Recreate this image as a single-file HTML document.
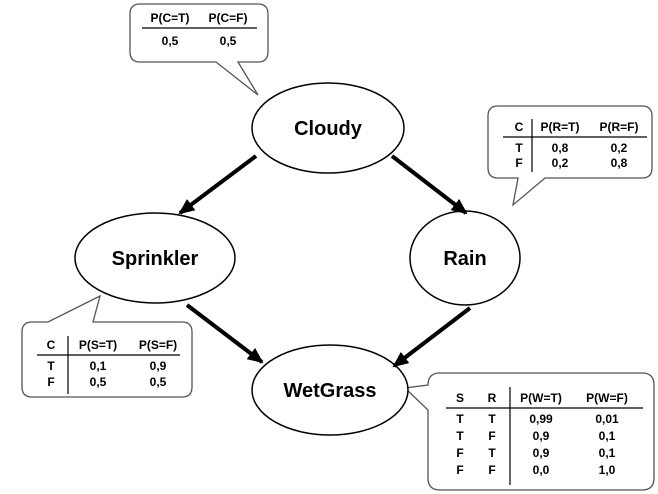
<!DOCTYPE html>
<html><head><style>body{margin:0;background:#fff}svg{display:block}</style></head><body>
<svg width="658" height="494" viewBox="0 0 658 494" xmlns="http://www.w3.org/2000/svg" font-family="Liberation Sans, sans-serif" font-weight="bold">
<defs><marker id="b" markerWidth="16" markerHeight="14" refX="14" refY="7" orient="auto" markerUnits="userSpaceOnUse"><path d="M0,0 L16,7 L0,14 z" fill="#000"/></marker></defs>
<g stroke="#555" stroke-width="1.3" fill="#fff">
<path d="M140,4 H258 Q268,4 268,14 V52 Q268,62 258,62 H238 L258,95 L216,62 H140 Q130,62 130,52 V14 Q130,4 140,4 Z"/>
<path d="M498,106 H642 Q652,106 652,116 V168 Q652,178 642,178 H545 L513,205 L518,178 H498 Q488,178 488,168 V116 Q488,106 498,106 Z"/>
<path d="M32,322 H48 L100,296 L93,322 H182 Q192,322 192,332 V387 Q192,397 182,397 H32 Q22,397 22,387 V332 Q22,322 32,322 Z"/>
<path d="M440,373 H642 Q654,373 654,385 V478 Q654,490 642,490 H440 Q428,490 428,478 V410 L405,388 L428,385 Q428,373 440,373 Z"/>
</g>
<g stroke="#000" stroke-width="1.5" fill="#fff">
<ellipse cx="328" cy="128" rx="76" ry="45"/>
<ellipse cx="155" cy="258" rx="80" ry="45"/>
<ellipse cx="465" cy="258" rx="55" ry="47"/>
<ellipse cx="330" cy="390" rx="78" ry="45"/>
</g>
<g stroke="#000" stroke-width="4" marker-end="url(#b)">
<line x1="256" y1="156" x2="180" y2="213"/>
<line x1="392" y1="156" x2="466" y2="213"/>
<line x1="187" y1="305" x2="262" y2="362"/>
<line x1="470" y1="308" x2="394" y2="366"/>
</g>
<g font-size="20" text-anchor="middle" fill="#000">
<text x="328" y="135">Cloudy</text>
<text x="155" y="265">Sprinkler</text>
<text x="465" y="265">Rain</text>
<text x="330" y="397">WetGrass</text>
</g>
<g font-size="12" text-anchor="middle" fill="#000">
<text x="170" y="22">P(C=T)</text><text x="228" y="22">P(C=F)</text>
<line x1="142" y1="28" x2="257" y2="28" stroke="#000" stroke-width="1.2"/>
<text x="170" y="45">0,5</text><text x="228" y="45">0,5</text>

<text x="519" y="131">C</text><text x="560" y="131">P(R=T)</text><text x="619" y="131">P(R=F)</text>
<line x1="503" y1="137" x2="647" y2="137" stroke="#000" stroke-width="1.2"/>
<line x1="532" y1="119" x2="532" y2="172" stroke="#000" stroke-width="1.2"/>
<text x="519" y="152">T</text><text x="560" y="152">0,8</text><text x="619" y="152">0,2</text>
<text x="519" y="167">F</text><text x="560" y="167">0,2</text><text x="619" y="167">0,8</text>

<text x="51" y="349">C</text><text x="98" y="349">P(S=T)</text><text x="158" y="349">P(S=F)</text>
<line x1="37" y1="355" x2="180" y2="355" stroke="#000" stroke-width="1.2"/>
<line x1="68" y1="336" x2="68" y2="394" stroke="#000" stroke-width="1.2"/>
<text x="51" y="370">T</text><text x="98" y="370">0,1</text><text x="158" y="370">0,9</text>
<text x="51" y="386">F</text><text x="98" y="386">0,5</text><text x="158" y="386">0,5</text>

<text x="460" y="402">S</text><text x="492" y="402">R</text><text x="541" y="402">P(W=T)</text><text x="607" y="402">P(W=F)</text>
<line x1="446" y1="408" x2="643" y2="408" stroke="#000" stroke-width="1.2"/>
<line x1="510" y1="387" x2="510" y2="485" stroke="#000" stroke-width="1.2"/>
<text x="460" y="423">T</text><text x="492" y="423">T</text><text x="541" y="423">0,99</text><text x="607" y="423">0,01</text>
<text x="460" y="440">T</text><text x="492" y="440">F</text><text x="541" y="440">0,9</text><text x="607" y="440">0,1</text>
<text x="460" y="457">F</text><text x="492" y="457">T</text><text x="541" y="457">0,9</text><text x="607" y="457">0,1</text>
<text x="460" y="474">F</text><text x="492" y="474">F</text><text x="541" y="474">0,0</text><text x="607" y="474">1,0</text>
</g>
</svg>
</body></html>
